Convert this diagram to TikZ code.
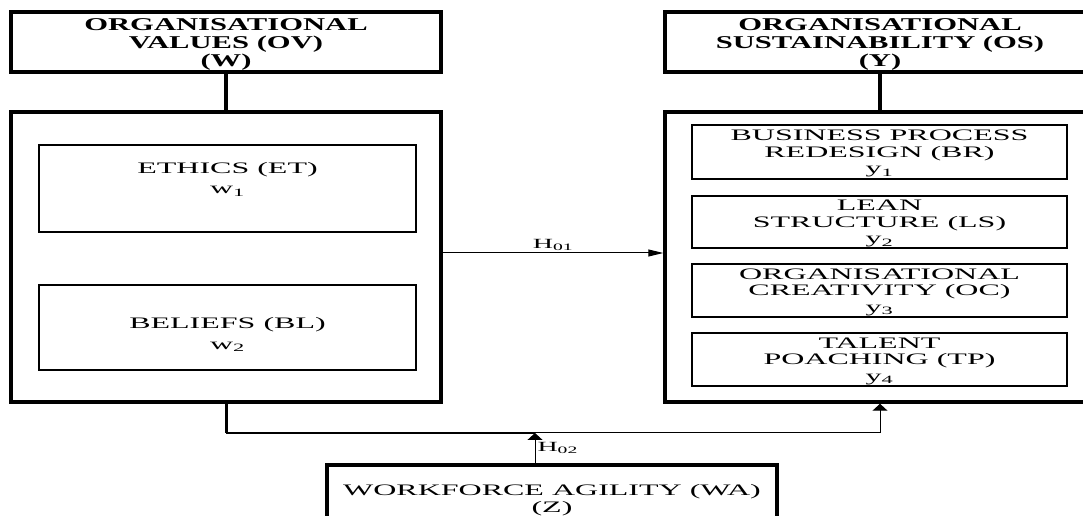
\documentclass[tikz,border=0pt]{standalone}
\usepackage{fontspec}
\setmainfont{Liberation Serif}
\newfontfamily\headfont[FakeStretch=1.7]{Liberation Serif}
\newfontfamily\bodyfont[FakeStretch=2.0]{Liberation Serif}
\usetikzlibrary{arrows.meta}

\begin{document}
\begin{tikzpicture}[x=1pt,y=1pt,
  outerbox/.style={draw,line width=3.5pt,inner sep=0pt,minimum width=430pt,minimum height=290pt},
  headbox/.style={draw,line width=3.5pt,inner sep=0pt,minimum width=430pt,minimum height=60pt},
  headtext/.style={inner sep=0pt,align=center,font=\headfont\bfseries\fontsize{18}{18}\selectfont},
  itembox/.style={draw,line width=1.6pt,inner sep=0pt,minimum width=375pt},
  itemtext/.style={inner sep=0pt,align=center,font=\bodyfont\fontsize{16}{16.5}\selectfont},
  stem/.style={line width=3.5pt},
  link/.style={line width=1pt},
  harr/.style={link,-{Triangle[length=15pt,width=7pt]}},
  varr/.style={link,-{Triangle[length=7pt,width=15pt]}},
  hyp/.style={inner sep=2pt,font=\bodyfont\fontsize{14}{14}\selectfont}]
  \clip (0,0) rectangle (1083,516);
  % left block
  \node[headbox] (ov) at (226,474) {};
  \node[headtext] (ovtxt) at ([yshift=-2pt]ov.center) {ORGANISATIONAL\\VALUES (OV)\\(W)};
  \node[outerbox] (lo) at (226,259) {};
  \node[itembox,minimum width=377pt,minimum height=87pt] (et) at (227.5,327.5) {};
  \node[itemtext,font=\bodyfont\fontsize{16}{20}\selectfont] (ettxt) at (227.5,336.5) {ETHICS (ET)\\w\textsubscript{1}};
  \node[itembox,minimum width=377pt,minimum height=85pt] (bl) at (227.5,188.5) {};
  \node[itemtext,font=\bodyfont\fontsize{16}{21}\selectfont] (bltxt) at (227.5,181.5) {BELIEFS (BL)\\w\textsubscript{2}};
  % right block
  \node[headbox] (os) at (880,474) {};
  \node[headtext] (ostxt) at ([yshift=-2pt]os.center) {ORGANISATIONAL\\SUSTAINABILITY (OS)\\(Y)};
  \node[outerbox] (ro) at (880,259) {};
  \node[itembox,minimum height=54pt] (br) at (879.5,364) {};
  \node[itemtext] (brtxt) at ([yshift=-1.5pt]br.center) {BUSINESS PROCESS\\REDESIGN (BR)\\y\textsubscript{1}};
  \node[itembox,minimum height=52pt] (ls) at (879.5,294) {};
  \node[itemtext] (lstxt) at ([yshift=-1.5pt]ls.center) {LEAN\\STRUCTURE (LS)\\y\textsubscript{2}};
  \node[itembox,minimum height=53pt] (oc) at (879.5,225.5) {};
  \node[itemtext] (octxt) at ([yshift=-1.5pt]oc.center) {ORGANISATIONAL\\CREATIVITY (OC)\\y\textsubscript{3}};
  \node[itembox,minimum height=53pt] (tp) at (879.5,156.5) {};
  \node[itemtext] (tptxt) at ([yshift=-1.5pt]tp.center) {TALENT\\POACHING (TP)\\y\textsubscript{4}};
  % moderator
  \node[headbox,minimum width=450pt,minimum height=75pt] (wa) at (552,13.5) {};
  \node[itemtext,font=\bodyfont\fontsize{16}{17}\selectfont] (watxt) at (552,16) {WORKFORCE AGILITY (WA)\\(Z)};
  \coordinate (bus) at (226,83);
  \coordinate (hub) at (535,83);

  \draw[stem] (ov) -- (lo);
  \draw[stem] (os) -- (ro);
  \draw[harr] ([yshift=4pt]lo.east) -- node[hyp,above] (h1) {H\textsubscript{01}} ([yshift=4pt]ro.west);
  \draw[line width=3pt] (lo.south) -- (bus);
  \draw[line width=1.8pt] (bus) -- (hub);
  \draw[varr] (hub) -| (ro.south);
  \draw[varr] (wa.north -| hub) -- node[hyp,right] (h2) {H\textsubscript{02}} (hub);
\end{tikzpicture}
\end{document}
